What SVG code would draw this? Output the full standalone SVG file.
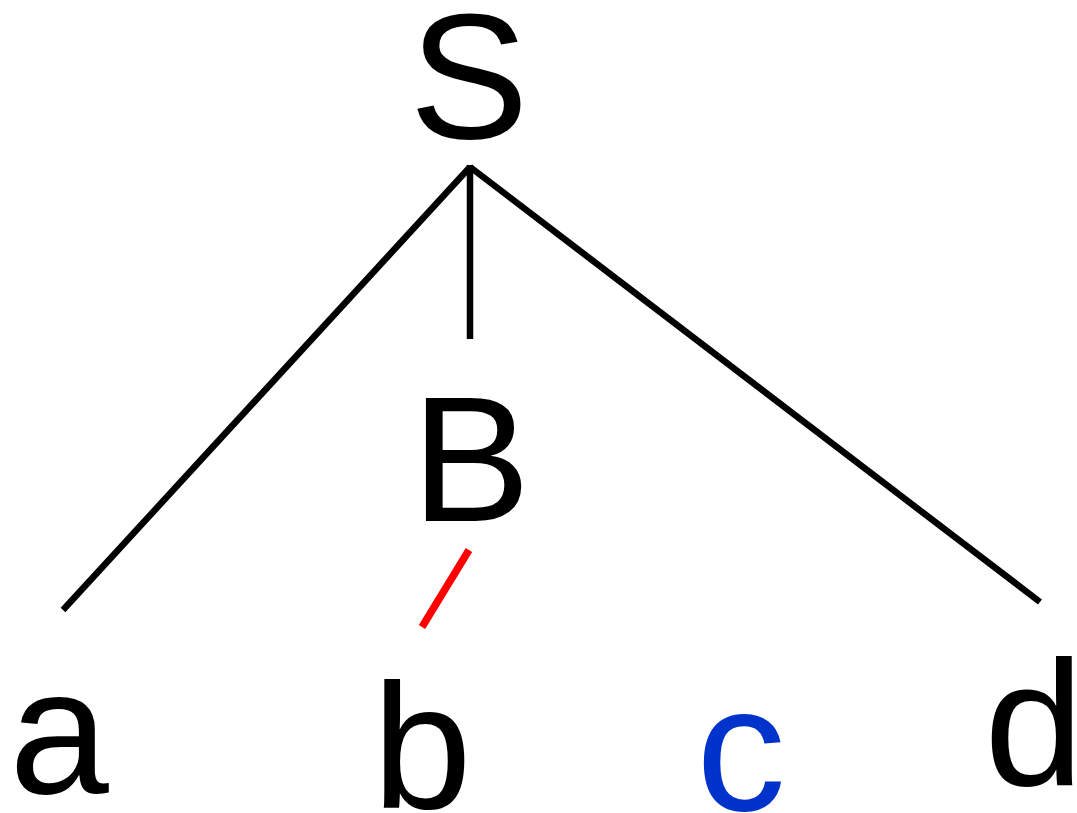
<svg xmlns="http://www.w3.org/2000/svg" width="1077" height="813" viewBox="0 0 1077 813">
<style>
.t{font-family:"Liberation Sans","Noto Sans",sans-serif;font-size:179px;text-anchor:middle;fill:#000}
.e{stroke:#000;stroke-width:6.5;fill:none}
</style>
<rect width="1077" height="813" fill="#fff"/>
<g id="connectors">
<line class="e" x1="470" y1="167" x2="63" y2="610"/>
<line class="e" x1="470" y1="165" x2="470" y2="339"/>
<line class="e" x1="470" y1="167" x2="1040" y2="602"/>
<line x1="469" y1="550" x2="422" y2="627" stroke="#ff0000" stroke-width="7.5"/>
</g>
<g id="S"><text class="t" x="469" y="138">S</text></g>
<g id="B"><text class="t" x="471" y="521">B</text></g>
<g id="a"><text class="t" x="59" y="793">a</text></g>
<g id="b"><text class="t" x="422" y="808">b</text></g>
<g id="c"><text class="t" x="741" y="810" style="fill:#0033cc">c</text></g>
<g id="d"><text class="t" x="1034" y="785">d</text></g>
</svg>
